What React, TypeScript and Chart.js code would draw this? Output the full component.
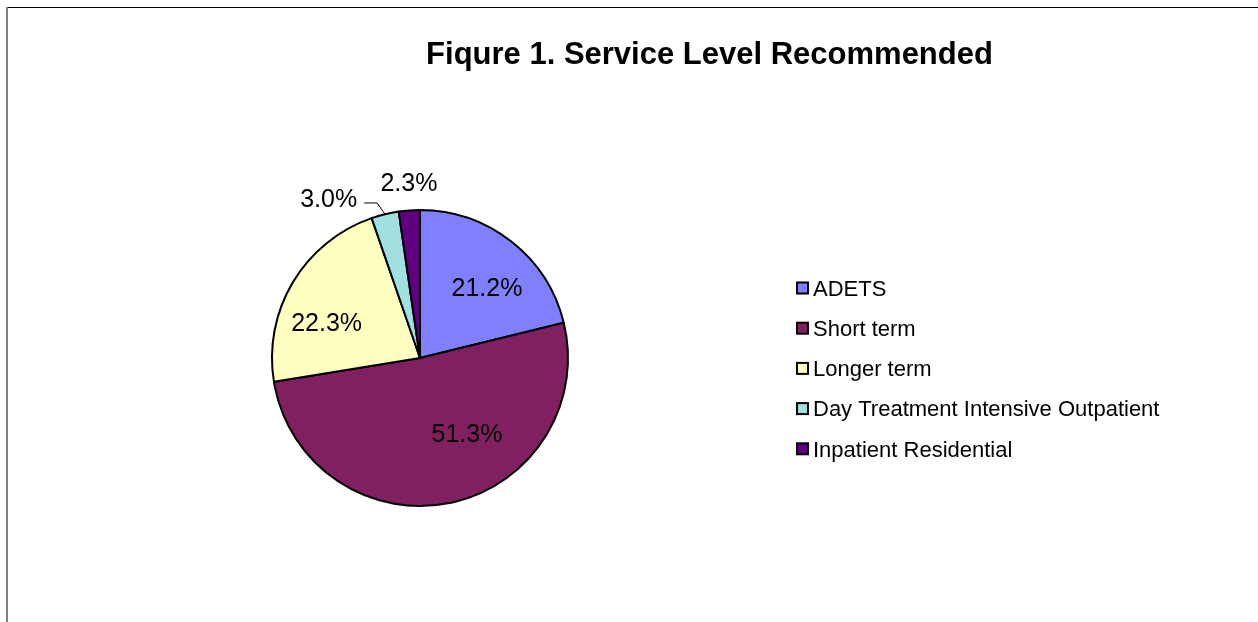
import React, { useEffect, useRef } from "react";
import { Chart, registerables } from "chart.js";

Chart.register(...registerables);

const titleText = "Fiqure 1. Service Level Recommended";
const categories = [
  "ADETS",
  "Short term",
  "Longer term",
  "Day Treatment Intensive Outpatient",
  "Inpatient Residential",
];
const shares = [21.2, 51.3, 22.3, 3.0, 2.3];
const sliceColors = ["#8080FF", "#802060", "#FFFFC0", "#A0E0E0", "#600080"];

// Label placement (Excel "best fit" emulation): angle shift from slice mid-angle (deg), distance as fraction of radius
const labelLayout = [
  { shift: 5.6, frac: 0.655, leader: false },
  { shift: -20.2, frac: 0.604, leader: false },
  { shift: -10.3, frac: 0.674, leader: false },
  { shift: -16.2, frac: 1.239, leader: true },
  { shift: 0.5, frac: 1.184, leader: false },
];

const FONT = '"Liberation Sans", Arial, sans-serif';

const decorPlugin = {
  id: "decor",
  afterDraw(chart: any) {
    const ctx = chart.ctx as CanvasRenderingContext2D;
    const W = chart.width;
    const H = chart.height;
    ctx.save();
    // frame
    ctx.fillStyle = "#000000";
    ctx.fillRect(6, 7, W - 6, 1);
    ctx.fillStyle = "#808080";
    ctx.fillRect(6, 7, 2, H - 7);

    // title
    ctx.fillStyle = "#000000";
    ctx.font = `bold 31px ${FONT}`;
    ctx.textAlign = "center";
    ctx.textBaseline = "alphabetic";
    ctx.fillText(titleText, 709.5, 63.5);

    // data labels
    const meta = chart.getDatasetMeta(0);
    const data = chart.data.datasets[0].data as number[];
    ctx.font = `25px ${FONT}`;
    ctx.textBaseline = "middle";
    meta.data.forEach((arc: any, i: number) => {
      const p = arc.getProps(["x", "y", "startAngle", "endAngle", "outerRadius"], true);
      const mid = (p.startAngle + p.endAngle) / 2;
      const lay = labelLayout[i];
      const a = mid + (lay.shift * Math.PI) / 180;
      const d = p.outerRadius * lay.frac;
      const lx = p.x + Math.cos(a) * d;
      const ly = p.y + Math.sin(a) * d;
      const txt = data[i].toFixed(1) + "%";
      ctx.textAlign = "center";
      ctx.fillStyle = "#000000";
      ctx.fillText(txt, lx, ly + 1);
      if (lay.leader) {
        const tw = ctx.measureText(txt).width;
        const ex = p.x + Math.cos(mid) * p.outerRadius;
        const ey = p.y + Math.sin(mid) * p.outerRadius;
        const hy = ly + 4;
        ctx.strokeStyle = "#000000";
        ctx.lineWidth = 1;
        ctx.beginPath();
        ctx.moveTo(lx + tw / 2 + 7, hy);
        ctx.lineTo(ex - 8, hy);
        ctx.lineTo(ex, ey);
        ctx.stroke();
      }
    });

    // legend
    const labels = chart.data.labels as string[];
    const colors = chart.data.datasets[0].backgroundColor as string[];
    ctx.font = `22px ${FONT}`;
    ctx.textAlign = "left";
    ctx.textBaseline = "alphabetic";
    labels.forEach((lab, i) => {
      const cy = 288 + i * 40.2;
      ctx.fillStyle = colors[i];
      ctx.fillRect(797, cy - 5.5, 11, 11);
      ctx.strokeStyle = "#000000";
      ctx.lineWidth = 2;
      ctx.strokeRect(797, cy - 5.5, 11, 11);
      ctx.fillStyle = "#000000";
      ctx.fillText(lab, 813, cy + 7.8);
    });
    ctx.restore();
  },
};

export default function App() {
  const ref = useRef<HTMLCanvasElement | null>(null);
  useEffect(() => {
    if (!ref.current) return;
    const chart = new Chart(ref.current, {
      type: "pie",
      data: {
        labels: categories,
        datasets: [
          {
            data: shares,
            backgroundColor: sliceColors,
            borderColor: "#000000",
            borderWidth: 2,
          },
        ],
      },
      options: {
        responsive: false,
        animation: false,
        radius: 148,
        layout: { padding: { left: 270, right: 688, top: 208, bottom: 114 } },
        plugins: {
          legend: { display: false },
          title: { display: false },
          tooltip: { enabled: false },
        },
      } as any,
      plugins: [decorPlugin],
    });
    return () => chart.destroy();
  }, []);
  return (
    <div style={{ position: "fixed", left: 0, top: 0, width: 1258, height: 622, background: "#fff" }}>
      <canvas ref={ref} width={1258} height={622} style={{ display: "block" }} />
    </div>
  );
}
